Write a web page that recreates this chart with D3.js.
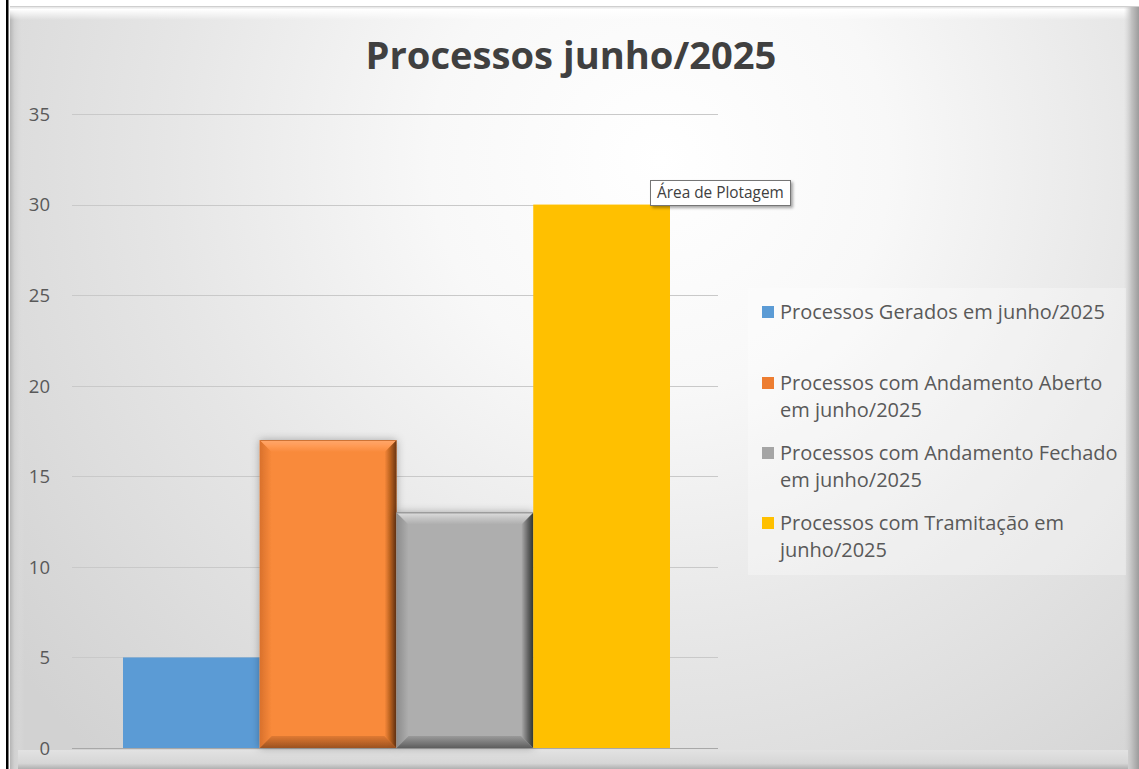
<!DOCTYPE html>
<html><head><meta charset="utf-8">
<script src="https://cdn.jsdelivr.net/npm/d3@7"></script>
<style>html,body{margin:0;padding:0;background:#fff;}svg{display:block;}</style>
</head><body>
<svg id="c" width="1139" height="769"></svg>
<script>
const chartTitle = "Processos junho/2025";
const categories = ["junho/2025"];
const seriesNames = [
  ["Processos Gerados em junho/2025"],
  ["Processos com Andamento Aberto", "em junho/2025"],
  ["Processos com Andamento Fechado", "em junho/2025"],
  ["Processos com Tramitação em", "junho/2025"]
];
const seriesValues = [5, 17, 13, 30];
const yTicks = [0, 5, 10, 15, 20, 25, 30, 35];
const tooltipText = "Área de Plotagem";

const barColors = ["#5B9BD5", "#F98A3B", "#AEAEAE", "#FFC000"];
const legendColors = ["#5B9BD5", "#ED7D31", "#A5A5A5", "#FFC000"];
const bevelled = [false, true, true, false];

const svg = d3.select("#c");
const defs = svg.append("defs");
const font = "'Open Sans', 'Noto Sans', sans-serif";

// background gradient
const bg = defs.append("radialGradient").attr("id","bg").attr("gradientUnits","userSpaceOnUse")
  .attr("cx",660).attr("cy",160).attr("r",820);
[[0,"#ffffff"],[0.28,"#f8f8f8"],[0.6,"#e6e6e6"],[1,"#d2d2d2"]].forEach(s=>bg.append("stop").attr("offset",s[0]).attr("stop-color",s[1]));
function lin(id, x1,y1,x2,y2, stops){
  const g = defs.append("linearGradient").attr("id",id).attr("x1",x1).attr("y1",y1).attr("x2",x2).attr("y2",y2);
  stops.forEach(s=>g.append("stop").attr("offset",s[0]).attr("stop-color",s[1]).attr("stop-opacity", s[2]===undefined?1:s[2]));
}
lin("edgeL",0,0,1,0,[[0,"#b5b5b5"],[0.3,"#d0d0d0"],[1,"#e0e0e0",0]]);
lin("edgeT",0,0,0,1,[[0,"#d8d8d8"],[0.25,"#ffffff"],[1,"#ffffff",0]]);
lin("edgeR",0,0,1,0,[[0,"#d0d0d0",0],[0.5,"#c2c2c2"],[1,"#9c9c9c"]]);
lin("edgeB",0,0,0,1,[[0,"#e2e2e2"],[0.7,"#d6d6d6"],[1,"#b0b0b0"]]);

// bevel gradients
lin("oTop",0,0,0,1,[[0,"#b85d20"],[0.12,"#ffa466"],[0.5,"#ff9a55"],[1,"#F98A3B"]]);
lin("oRight",0,0,1,0,[[0,"#F98A3B"],[0.5,"#b8601f"],[1,"#6a3510"]]);
lin("oBottom",0,0,0,1,[[0,"#e07a32"],[1,"#9c5220"]]);
lin("oLeft",0,0,1,0,[[0,"#d9712c"],[1,"#F98A3B"]]);
lin("gTop",0,0,0,1,[[0,"#7a7a7a"],[0.12,"#d8d8d8"],[0.5,"#c4c4c4"],[1,"#AEAEAE"]]);
lin("gRight",0,0,1,0,[[0,"#AEAEAE"],[0.5,"#6c6c6c"],[1,"#2f3530"]]);
lin("gBottom",0,0,0,1,[[0,"#9a9a9a"],[1,"#5e5e5e"]]);
lin("gLeft",0,0,1,0,[[0,"#8c8c8c"],[1,"#AEAEAE"]]);

const sh = defs.append("filter").attr("id","sh").attr("x","-20%").attr("y","-20%").attr("width","140%").attr("height","140%");
sh.append("feDropShadow").attr("dx",0).attr("dy",0).attr("stdDeviation",4).attr("flood-color","#000").attr("flood-opacity",0.3);
const sh2 = defs.append("filter").attr("id","sh2").attr("x","-20%").attr("y","-20%").attr("width","140%").attr("height","140%");
sh2.append("feDropShadow").attr("dx",2).attr("dy",2).attr("stdDeviation",1.5).attr("flood-color","#000").attr("flood-opacity",0.35);

// frame
svg.append("rect").attr("x",0).attr("y",0).attr("width",1139).attr("height",769).attr("fill","#fff");
svg.append("rect").attr("x",10).attr("y",6).attr("width",1129).attr("height",763).attr("fill","url(#bg)");
svg.append("rect").attr("x",10).attr("y",6).attr("width",14).attr("height",763).attr("fill","url(#edgeL)");
svg.append("rect").attr("x",10).attr("y",6).attr("width",1129).attr("height",14).attr("fill","url(#edgeT)");
svg.append("rect").attr("x",1124).attr("y",6).attr("width",15).attr("height",763).attr("fill","url(#edgeR)");
svg.append("rect").attr("x",18).attr("y",750).attr("width",1110).attr("height",19).attr("fill","url(#edgeB)");
svg.append("line").attr("x1",10).attr("x2",1139).attr("y1",6.5).attr("y2",6.5).attr("stroke","#cfcfcf");
svg.append("rect").attr("x",6).attr("y",0).attr("width",2.5).attr("height",769).attr("fill","#000");

// scales
const plot = {x0:72, x1:718, y0:114, y1:748};
const y = d3.scaleLinear().domain([0,35]).range([plot.y1, plot.y0]);
const x0 = d3.scaleBand().domain(categories).range([plot.x0+2, plot.x1+1]).paddingInner(0).paddingOuter(0.0896);
const x1 = d3.scaleBand().domain(d3.range(seriesValues.length)).range([0, x0.bandwidth()]).padding(0);

// gridlines
svg.append("g").selectAll("line").data(yTicks).join("line")
  .attr("x1",plot.x0).attr("x2",plot.x1)
  .attr("y1",d=>Math.round(y(d))+0.5).attr("y2",d=>Math.round(y(d))+0.5)
  .attr("stroke", d=> d===0 ? "#a8a8a8" : "#c9c9c9").attr("stroke-width",1);

// y axis labels
const yAxis = d3.axisLeft(y).tickValues(yTicks).tickSize(0).tickPadding(0);
const ga = svg.append("g").attr("transform",`translate(50,0)`).call(yAxis);
ga.select(".domain").remove();
ga.selectAll("text").attr("font-family",font).attr("font-size",18.5).attr("fill","#595959").attr("dy","0.34em");

// bars
const bars = svg.append("g");
const cat = categories[0];
seriesValues.forEach((v,i)=>{
  const bx = x0(cat) + x1(i), bw = x1.bandwidth();
  const by = y(v), bh = y(0) - y(v);
  const g = bars.append("g");
  if (bevelled[i]) g.attr("filter","url(#sh)");
  g.append("rect").attr("x",bx).attr("y",by).attr("width",bw).attr("height",bh).attr("fill",barColors[i]);
  if (bevelled[i]) {
    const p = i===1 ? "o" : "g";
    const b = 12, X0=bx, X1=bx+bw, Y0=by, Y1=by+bh;
    const poly = (pts, fill)=> g.append("polygon").attr("points", pts.map(q=>q.join(",")).join(" ")).attr("fill",fill);
    poly([[X0,Y0],[X0+b,Y0+b],[X0+b,Y1-b],[X0,Y1]], `url(#${p}Left)`);
    poly([[X0,Y1],[X0+b,Y1-b],[X1-b,Y1-b],[X1,Y1]], `url(#${p}Bottom)`);
    poly([[X1,Y0],[X1,Y1],[X1-b,Y1-b],[X1-b,Y0+b]], `url(#${p}Right)`);
    poly([[X0,Y0],[X1,Y0],[X1-b,Y0+b],[X0+b,Y0+b]], `url(#${p}Top)`);
  }
});

// title
const t = svg.append("text").attr("x",571).attr("y",69).attr("text-anchor","middle")
  .attr("font-family",font).attr("font-weight","bold").attr("font-size",40).attr("fill","#404040").text(chartTitle);
const tw = t.node().getComputedTextLength();
t.attr("font-size", 40*411/tw);

// legend
svg.append("rect").attr("x",748).attr("y",288).attr("width",378).attr("height",287).attr("fill","#ffffff").attr("fill-opacity",0.3);
const lg = svg.append("g");
const itemY = [312, 383, 453, 523];
const probe = lg.append("text").attr("font-family",font).attr("font-size",20).text(seriesNames[0][0]);
const lfs = 20*325/probe.node().getComputedTextLength();
probe.remove();
seriesNames.forEach((lines,i)=>{
  lg.append("rect").attr("x",762).attr("y",itemY[i]-6).attr("width",12).attr("height",12).attr("fill",legendColors[i]);
  const tx = lg.append("text").attr("font-family",font).attr("font-size",lfs).attr("fill","#595959");
  lines.forEach((ln,k)=>{
    tx.append("tspan").attr("x",780).attr("y",itemY[i]+k*27).attr("dy","0.35em").text(ln);
  });
});

// tooltip
const tt = svg.append("g");
tt.append("rect").attr("x",650.5).attr("y",180.5).attr("width",140).attr("height",25).attr("fill","#fff").attr("stroke","#767676").attr("filter","url(#sh2)");
const ttt = tt.append("text").attr("x",657).attr("y",193).attr("dy","0.35em").attr("font-family",font).attr("font-size",13).attr("fill","#404040").text(tooltipText);
const ttw = ttt.node().getComputedTextLength();
ttt.attr("font-size", 13*127/ttw);
</script>
</body></html>
